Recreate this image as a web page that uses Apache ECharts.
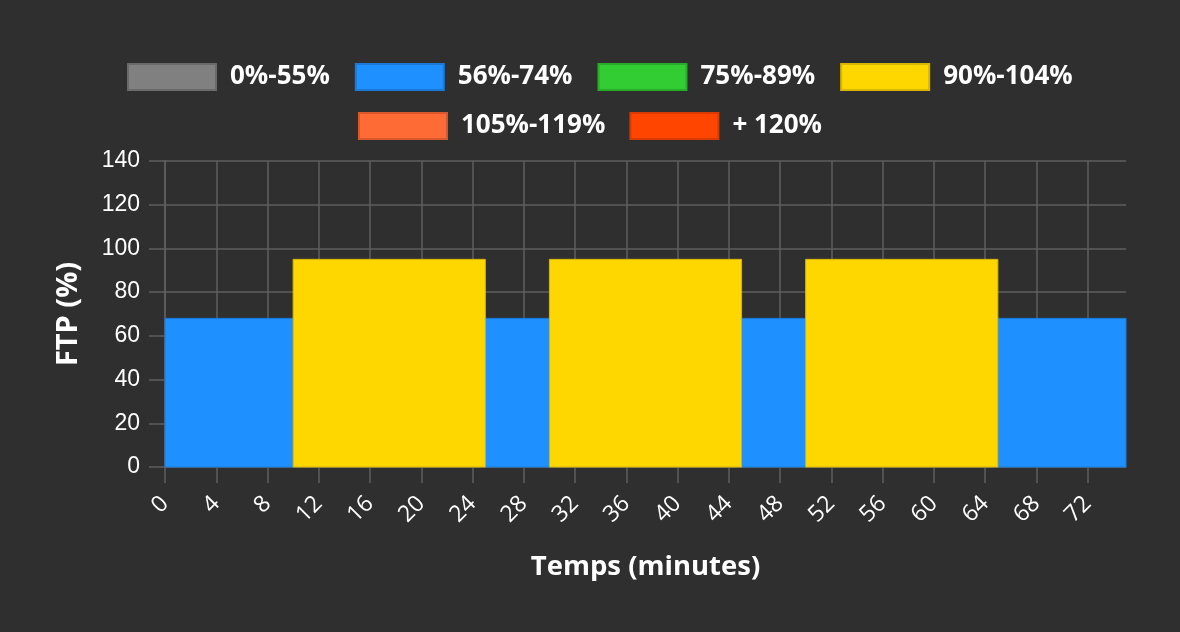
<!DOCTYPE html>
<html>
<head>
<meta charset="utf-8">
<script src="https://cdn.jsdelivr.net/npm/echarts@6/dist/echarts.min.js"></script>
<style>
html,body{margin:0;padding:0;background:#2f2f2f;}
#chart{width:1180px;height:632px;}
</style>
</head>
<body>
<div id="chart"></div>
<script>
// Zones (legend)
const zoneNames = ['0%-55%', '56%-74%', '75%-89%', '90%-104%', '105%-119%', '+ 120%'];
const zoneColors = ['#808080', '#1E90FF', '#32CD32', '#FFD700', '#FF6B35', '#FF4500'];
const zoneBorders = ['#6a6a6a', '#1a7ad8', '#28ad28', '#d9b600', '#d9592b', '#d93a00'];
const zoneMax = [55, 74, 89, 104, 119, Infinity];

// Workout blocks (minutes, % FTP)
const blockStart = [0, 10, 25, 30, 45, 50, 65];
const blockEnd   = [10, 25, 30, 45, 50, 65, 75];
const blockFTP   = [68, 95, 68, 95, 68, 95, 68];

// Axis ticks
const xMax = 75;
const xTicks = [0, 4, 8, 12, 16, 20, 24, 28, 32, 36, 40, 44, 48, 52, 56, 60, 64, 68, 72];
const yMax = 140;
const yInterval = 20;

function zoneOf(v) {
  for (let i = 0; i < zoneMax.length; i++) if (v <= zoneMax[i]) return i;
  return zoneMax.length - 1;
}

const zoneData = zoneNames.map(() => []);
blockStart.forEach((s, i) => {
  zoneData[zoneOf(blockFTP[i])].push([s, blockEnd[i], blockFTP[i]]);
});

const series = zoneNames.map((name, zi) => ({
  name: name,
  type: 'custom',
  itemStyle: { color: zoneColors[zi], borderColor: zoneBorders[zi], borderWidth: 2 },
  encode: { x: [0, 1], y: 2 },
  data: zoneData[zi],
  renderItem: function (params, api) {
    const p0 = api.coord([api.value(0), api.value(2)]);
    const p1 = api.coord([api.value(1), 0]);
    return {
      type: 'rect',
      shape: { x: p0[0], y: p0[1], width: p1[0] - p0[0], height: p1[1] - p0[1] },
      style: { fill: zoneColors[zi], stroke: zoneBorders[zi], lineWidth: 1 }
    };
  }
}));

const legendText = {
  color: '#ffffff', fontSize: 26, fontWeight: 'bold',
  fontFamily: 'Open Sans, sans-serif', padding: [0, 0, 0, 9]
};
const gridColor = '#5f5f5f';
const titleFont = { color: '#ffffff', fontWeight: 'bold', fontFamily: 'Open Sans, sans-serif' };

const chart = echarts.init(document.getElementById('chart'));
chart.setOption({
  backgroundColor: '#2f2f2f',
  animation: false,
  legend: [
    { data: zoneNames.slice(0, 4), top: 63, left: 127, padding: 0, icon: 'rect',
      itemWidth: 88, itemHeight: 26, itemGap: 25, textStyle: legendText },
    { data: zoneNames.slice(4), top: 112, left: 'center', padding: 0, icon: 'rect',
      itemWidth: 88, itemHeight: 26, itemGap: 24, textStyle: legendText }
  ],
  grid: { left: 165, right: 54, top: 161, bottom: 165, containLabel: false },
  xAxis: {
    type: 'value', min: 0, max: xMax,
    name: 'Temps (minutes)', nameLocation: 'middle', nameGap: 86,
    nameTextStyle: Object.assign({ fontSize: 27.5 }, titleFont),
    axisLine: { show: true, lineStyle: { color: gridColor, width: 1.5 } },
    axisTick: { show: true, length: 16, customValues: xTicks, lineStyle: { color: gridColor, width: 1.5 } },
    splitLine: { show: true, lineStyle: { color: gridColor, width: 1.5 } },
    axisLabel: {
      rotate: 45, margin: 33, color: '#ffffff', fontSize: 23,
      fontFamily: 'Open Sans, sans-serif',
      customValues: xTicks
    }
  },
  yAxis: {
    type: 'value', min: 0, max: yMax, interval: yInterval,
    name: 'FTP (%)', nameLocation: 'middle', nameGap: 82,
    nameTextStyle: Object.assign({ fontSize: 29 }, titleFont),
    axisLine: { show: true, lineStyle: { color: gridColor, width: 1.5 } },
    axisTick: { show: true, length: 16, lineStyle: { color: gridColor, width: 1.5 } },
    splitLine: { show: true, lineStyle: { color: gridColor, width: 1.5 } },
    axisLabel: { margin: 25, color: '#ffffff', fontSize: 23, fontFamily: 'Liberation Sans, Arial, sans-serif' }
  },
  series: series
});
</script>
</body>
</html>
